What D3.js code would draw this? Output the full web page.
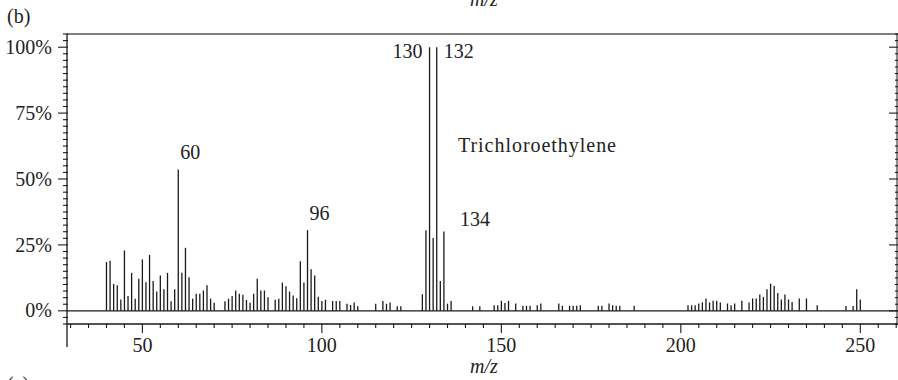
<!DOCTYPE html>
<html>
<head>
<meta charset="utf-8">
<script src="https://cdn.jsdelivr.net/npm/d3@7"></script>
<style>
  html, body { margin: 0; padding: 0; background: #fff; }
  svg { display: block; }
  text { font-family: "Liberation Serif", "Times New Roman", serif; fill: #222; }
</style>
</head>
<body>
<svg id="chart" width="898" height="380"></svg>
<script>
// Mass spectrum of trichloroethylene: m/z and relative intensity (%)
const mz = [40,41,42,43,44,45,46,47,48,49,50,51,52,53,54,55,56,57,58,59,60,61,62,63,64,65,66,67,68,69,70,
  73,74,75,76,77,78,79,80,81,82,83,84,85,87,88,89,90,91,92,93,94,95,96,97,98,99,100,101,103,104,105,
  107,108,109,110,115,117,118,119,121,122,128,129,130,131,132,133,134,135,136,142,144,148,149,150,151,
  152,154,156,157,158,160,161,166,167,169,170,171,172,177,178,180,181,182,183,187,202,203,204,205,206,
  207,208,209,210,211,213,214,215,217,219,220,221,222,223,224,225,226,227,228,229,230,231,233,235,238,
  246,248,249,250];
const intensity = [18.5,19,10.2,9.7,4.3,22.9,5.6,14.4,4.6,12.2,19.5,10.8,21.2,11.3,7.3,13.4,8.2,14.4,3.6,8.2,53.6,14.4,23.9,12.7,4.6,6.5,6.5,7.7,9.7,4.6,3.1,
  3.6,4.6,5.6,7.7,6.5,6.1,4.1,3.1,6.5,12.2,7.7,7.7,5.1,4.2,4.6,10.7,9.3,7.3,5.8,4.8,18.8,10.7,30.6,15.8,13.4,5.3,3.7,4.2,3.7,3.7,3.7,
  2.7,2.2,3.2,1.7,2.7,3.7,2.7,3.2,1.7,1.7,6.3,30.6,100,27.6,100,11.3,30.1,2.7,3.7,1.7,1.7,2.1,2.1,3.8,3.0,
  3.8,2.8,1.9,1.9,1.9,2.1,2.8,2.8,1.9,1.9,1.9,1.9,2.1,1.9,1.9,2.8,2.1,1.9,1.9,1.9,2.1,2.1,2.1,2.8,3.2,
  4.7,3.2,3.8,3.8,3.2,2.8,2.1,2.8,3.8,3.2,4.7,4.7,6.2,5.3,8.2,10.3,9.4,6.8,4.3,6.2,4.3,3.3,4.7,4.7,2.1,
  1.8,1.8,8.2,4.3];

// Annotated peaks (m/z shown next to the line)
const peakLabels = [60, 96, 130, 132, 134];
const compoundName = "Trichloroethylene";

const xMajorTicks = [50, 100, 150, 200, 250];
const yMajorTicks = [0, 25, 50, 75, 100];

const svg = d3.select("#chart");
const plotLeft = 67, plotRight = 898, plotTop = 34, plotBottom = 324;

const x = d3.scaleLinear().domain([29, 260.5]).range([plotLeft, plotRight]);
const y = d3.scaleLinear().domain([-5, 105]).range([plotBottom, plotTop]);

const ink = "#1a1a1a";

// Frame: top border
svg.append("line")
  .attr("x1", plotLeft).attr("x2", plotRight).attr("y1", plotTop).attr("y2", plotTop)
  .attr("stroke", "#555").attr("stroke-width", 1.6);

// Left axis line (runs below the x axis)
svg.append("line")
  .attr("x1", plotLeft).attr("x2", plotLeft).attr("y1", plotTop).attr("y2", 347)
  .attr("stroke", ink).attr("stroke-width", 1.3);

// Right axis line
svg.append("line")
  .attr("x1", plotRight - 1).attr("x2", plotRight - 1).attr("y1", plotTop).attr("y2", plotBottom)
  .attr("stroke", ink).attr("stroke-width", 1);

// Y ticks every 2.5 %, major every 25 %
const yTicks = d3.range(-5, 105.01, 2.5);
const isMajorY = v => yMajorTicks.includes(Math.round(v * 10) / 10);
svg.append("g").selectAll("line").data(yTicks).join("line")
  .attr("x1", d => isMajorY(d) ? plotLeft - 9 : plotLeft - 4)
  .attr("x2", plotLeft + 1)
  .attr("y1", d => y(d)).attr("y2", d => y(d))
  .attr("stroke", ink).attr("stroke-width", 1.1);

svg.append("g").selectAll("line").data(yTicks).join("line")
  .attr("x1", d => isMajorY(d) ? plotRight - 9 : plotRight - 3)
  .attr("x2", plotRight)
  .attr("y1", d => y(d)).attr("y2", d => y(d))
  .attr("stroke", ink).attr("stroke-width", 1.1);

svg.append("g").selectAll("text").data(yMajorTicks).join("text")
  .attr("x", 52).attr("y", d => y(d))
  .attr("dy", "0.33em")
  .attr("text-anchor", "end")
  .attr("font-size", 20)
  .text(d => d + "%");

// X axis at the bottom with ticks pointing down
svg.append("line")
  .attr("x1", plotLeft).attr("x2", plotRight).attr("y1", plotBottom).attr("y2", plotBottom)
  .attr("stroke", ink).attr("stroke-width", 1.3);

const xTicks = d3.range(30, 261, 5);
svg.append("g").selectAll("line").data(xTicks).join("line")
  .attr("x1", d => x(d)).attr("x2", d => x(d))
  .attr("y1", plotBottom)
  .attr("y2", d => xMajorTicks.includes(d) ? plotBottom + 9 : plotBottom + 4)
  .attr("stroke", ink).attr("stroke-width", 1.1);

svg.append("g").selectAll("text").data(xMajorTicks).join("text")
  .attr("x", d => x(d)).attr("y", 352)
  .attr("text-anchor", "middle")
  .attr("font-size", 20)
  .text(d => d);

// Baseline at 0 %
svg.append("line")
  .attr("x1", plotLeft).attr("x2", plotRight).attr("y1", y(0)).attr("y2", y(0))
  .attr("stroke", ink).attr("stroke-width", 1.3);

// Spectrum lines
const peaks = mz.map((m, i) => ({ m, v: intensity[i] }));
svg.append("g").selectAll("line").data(peaks).join("line")
  .attr("x1", d => x(d.m)).attr("x2", d => x(d.m))
  .attr("y1", y(0)).attr("y2", d => y(d.v))
  .attr("stroke", ink).attr("stroke-width", 1.3);

// Peak annotations
const valueOf = m => intensity[mz.indexOf(m)];
const labelPos = {
  60:  { dx: 2,  dy: -11, anchor: "start" },
  96:  { dx: 2,  dy: -10, anchor: "start" },
  130: { dx: -7, dy: 11,  anchor: "end" },
  132: { dx: 7,  dy: 11,  anchor: "start" },
  134: { dx: 16, dy: -5,  anchor: "start" }
};
svg.append("g").selectAll("text").data(peakLabels).join("text")
  .attr("x", d => x(d) + labelPos[d].dx)
  .attr("y", d => y(valueOf(d)) + labelPos[d].dy)
  .attr("text-anchor", d => labelPos[d].anchor)
  .attr("font-size", 20)
  .text(d => d);

svg.append("text")
  .attr("x", 458).attr("y", 152)
  .attr("font-size", 20)
  .attr("textLength", 158)
  .text(compoundName);

// Panel letters and axis titles
svg.append("text").attr("x", 7).attr("y", 23).attr("font-size", 20).text("(b)");
svg.append("text").attr("x", 7).attr("y", 391).attr("font-size", 20).text("(c)");

svg.append("text")
  .attr("x", 484).attr("y", 373)
  .attr("text-anchor", "middle")
  .attr("font-size", 20).attr("font-style", "italic")
  .text("m/z");
svg.append("text")
  .attr("x", 484).attr("y", 6)
  .attr("text-anchor", "middle")
  .attr("font-size", 20).attr("font-style", "italic")
  .text("m/z");
</script>
</body>
</html>
